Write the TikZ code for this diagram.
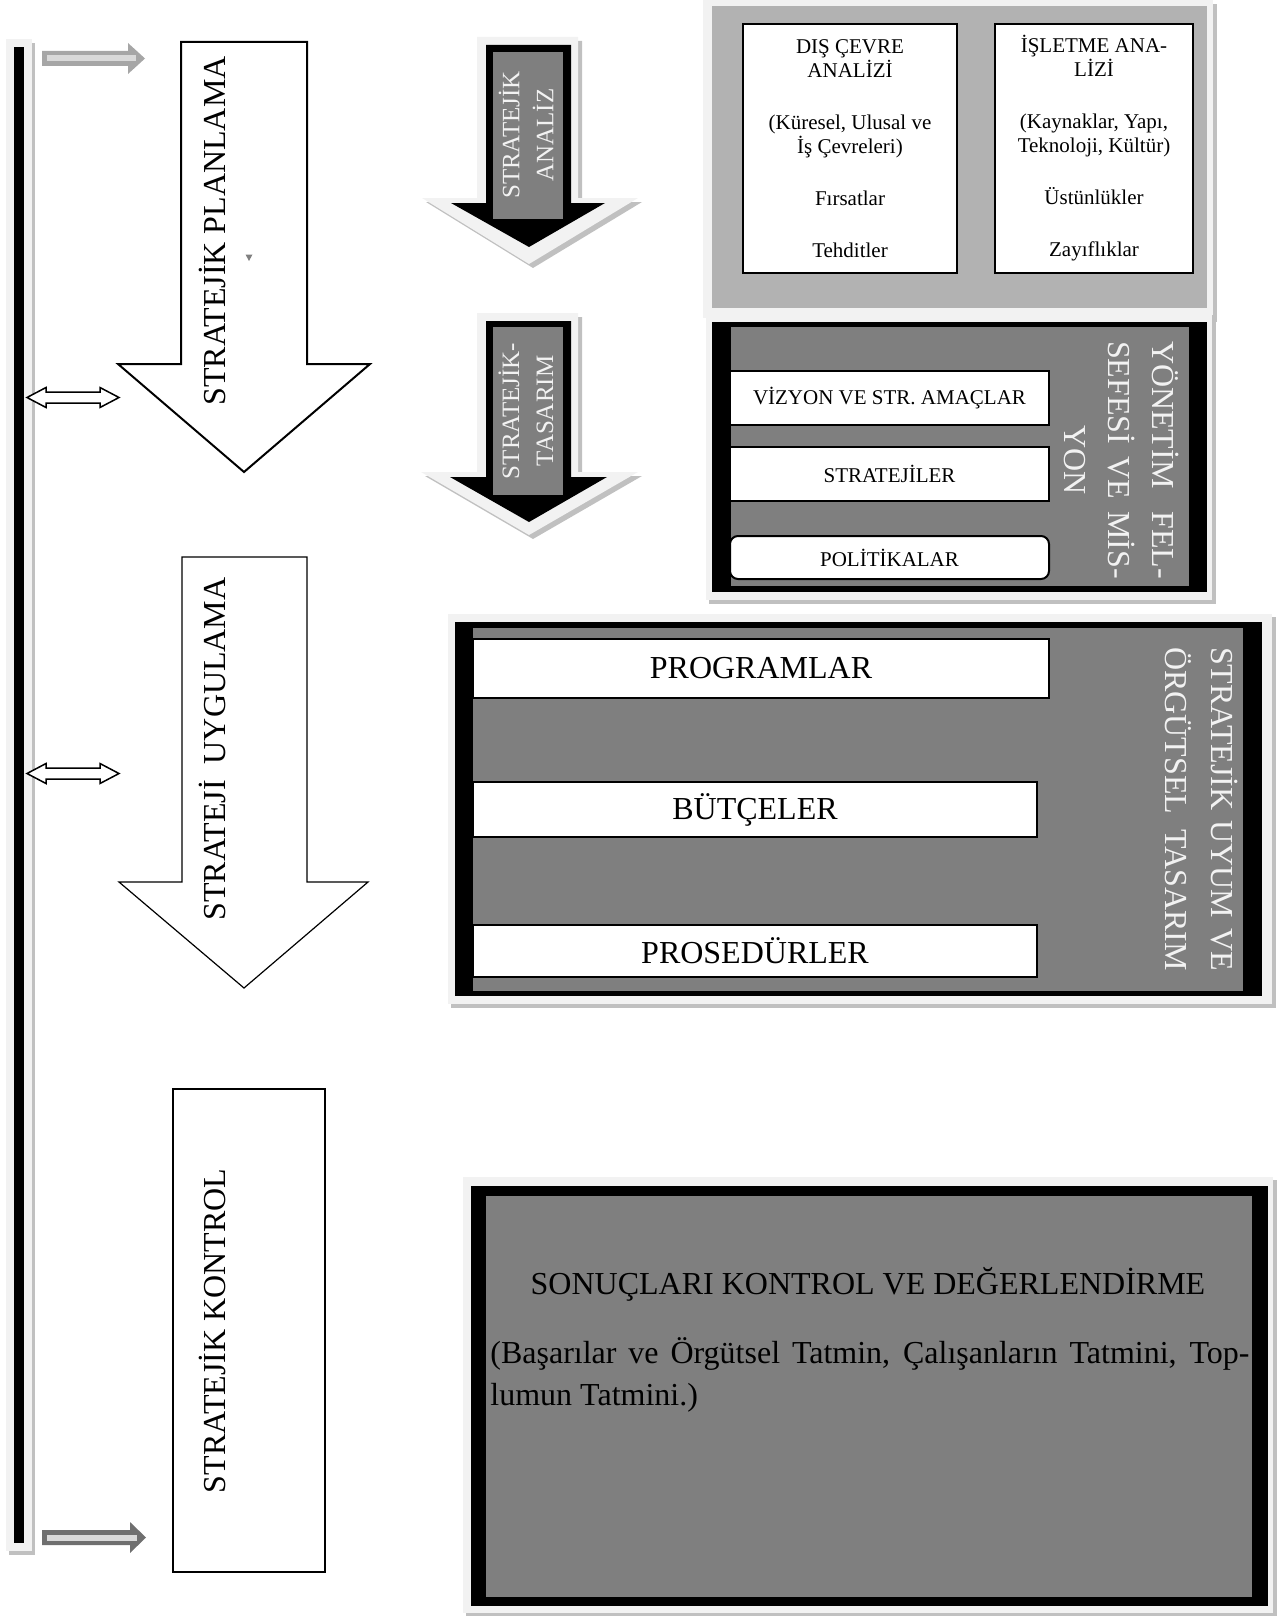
\documentclass[tikz,border=0pt]{standalone}
\usepackage{fontspec}
\setmainfont{Liberation Serif}
\definecolor{framegray}{HTML}{F2F2F2}
\definecolor{shadowgray}{HTML}{C0C0C0}
\definecolor{panelgray}{HTML}{B2B2B2}
\definecolor{midgray}{HTML}{7F7F7F}
\definecolor{lightarrow}{HTML}{A6A6A6}
\definecolor{darkarrow}{HTML}{6F6F6F}
\definecolor{innerline}{HTML}{D9D9D9}

\begin{document}
\begin{tikzpicture}[x=.5pt,y=-.5pt,
    phasearrow/.style={draw,fill=white,line width=1pt},
    panelframe/.style={fill=framegray},
    panelshadow/.style={fill=shadowgray},
    itembox/.style={draw,fill=white,line width=1pt,inner sep=0},
    smalltext/.style={font=\fontsize{10.5}{12}\selectfont},
    largetext/.style={font=\fontsize{16}{20.5}\selectfont},
    phasetext/.style={rotate=90,font=\fontsize{16}{18}\selectfont},
    sidetext/.style={text=framegray,align=center,inner sep=0}]
\useasboundingbox (0,0) rectangle (1283,1616);

\fill[panelshadow] (9,43) rectangle (35,1555);
\fill[panelframe]  (6,39) rectangle (32,1551);
\fill              (14,47) rectangle (24,1543);

\fill[lightarrow]
      (42,51) -- (128,51) -- (128,43) -- (145,58.5)
   -- (128,74) -- (128,66) -- (42,66) -- cycle;
\draw[innerline,line width=3pt] (47,58.5) -- (136,58.5);
\fill[darkarrow]
      (42,1530) -- (130,1530) -- (130,1522) -- (146,1537.5)
   -- (130,1553) -- (130,1545) -- (42,1545) -- cycle;
\draw[innerline,line width=3pt] (47,1537.5) -- (137,1537.5);

\foreach \y in {397.5,773.5}
  \draw[line width=.75pt,fill=white]
        (27,\y) -- ++(19,-10) -- ++(0,4.5) -- ++(54,0) -- ++(0,-4.5)
     -- ++(19,10) -- ++(-19,10) -- ++(0,-4.5) -- ++(-54,0) -- ++(0,4.5) -- cycle;

\draw[phasearrow]
      (181,42) -- (307,42) -- (307,364) -- (370,364)
   -- (244,472) -- (118,364) -- (181,364) -- cycle;
\node[phasetext] (plan) at (212,231) {STRATEJİK PLANLAMA};
\fill[gray] (245.5,254.5) -- (252.5,254.5) -- (249,261) -- cycle;

\draw[phasearrow,line width=.6pt]
      (182,557) -- (307,557) -- (307,882) -- (368,882)
   -- (244,988) -- (119,882) -- (182,882) -- cycle;
\node[phasetext] (uygulama) at (212,749) {STRATEJİ\ \ UYGULAMA};

\draw[line width=1pt] (173,1089) rectangle (325,1572);
\node[phasetext] (kontrol) at (212,1331) {STRATEJİK KONTROL};

\foreach \s/\c in {4/shadowgray,0/framegray}
  \fill[\c,shift={(\s,\s)}]
        (477,37) -- (578,37) -- (578,198) -- (638,198)
     -- (529,264) -- (422,198) -- (477,198) -- cycle;
\fill (486,45) -- (571,45) -- (571,203) -- (605,203)
   -- (529,247) -- (451,203) -- (486,203) -- cycle;
\fill[midgray] (493,52) rectangle (563,219);
\node[sidetext,rotate=90,font=\fontsize{12.5}{17}\selectfont] (analiz) at (526,135) {STRATEJİK\\ANALİZ};

\foreach \s/\c in {4/shadowgray,0/framegray}
  \fill[\c,shift={(\s,\s)}]
        (477,313) -- (578,313) -- (578,472) -- (638,472)
     -- (529,535) -- (421,472) -- (477,472) -- cycle;
\fill (486,321) -- (571,321) -- (571,477) -- (607,477)
   -- (529,522) -- (450,477) -- (486,477) -- cycle;
\fill[midgray] (493,327) rectangle (563,495);
\node[sidetext,rotate=90,font=\fontsize{12.5}{17}\selectfont] (tasarim) at (526,411) {STRATEJİK-\\TASARIM};

\fill[panelshadow] (707,4) rectangle (1217,322);
\fill[panelframe]  (703,0) rectangle (1213,318);
\fill[panelgray]   (712,6) rectangle (1207,308);
\node[itembox,smalltext,align=center,minimum width=107pt,minimum height=124.5pt]
    (ext) at (850,148.5)
    {DIŞ ÇEVRE\\ANALİZİ\\[14pt](Küresel, Ulusal ve\\İş Çevreleri)\\[14pt]Fırsatlar\\[14pt]Tehditler};
\node[itembox,smalltext,align=center,minimum width=99pt,minimum height=124.5pt]
    (int) at (1094,148.5)
    {İŞLETME ANA-\\LİZİ\\[14pt](Kaynaklar, Yapı,\\Teknoloji, Kültür)\\[14pt]Üstünlükler\\[14pt]Zayıflıklar};

\fill[panelshadow] (709,315) rectangle (1216,604);
\fill[panelframe]  (706,312) rectangle (1212,600);
\fill              (712,322) rectangle (1207,592);
\fill[midgray]     (731,327) rectangle (1189,586);
\node[itembox,smalltext,minimum width=159.5pt,minimum height=27pt]
    (vizyon) at (889.5,398) {VİZYON VE STR. AMAÇLAR};
\node[itembox,smalltext,minimum width=159.5pt,minimum height=27pt]
    (strateji) at (889.5,474) {STRATEJİLER};
\node[itembox,smalltext,rounded corners=4pt,minimum width=159.5pt,minimum height=21.5pt]
    (politika) at (889.5,557.5) {POLİTİKALAR};
\node[sidetext,rotate=-90,font=\fontsize{16}{22}\selectfont] (felsefe) at (1122,460)
    {\makebox[119pt][s]{YÖNETİM FEL-}\\\makebox[119pt][s]{SEFESİ VE MİS-}\\YON};

\fill[panelshadow] (451,617) rectangle (1276,1008);
\fill[panelframe]  (448,614) rectangle (1272,1004);
\fill              (455,622) rectangle (1262,996);
\fill[midgray]     (473,628) rectangle (1243,991);
\node[itembox,largetext,minimum width=288pt,minimum height=29.5pt]
    (program) at (761,668.5) {PROGRAMLAR};
\node[itembox,largetext,minimum width=282pt,minimum height=27.5pt]
    (butce) at (755,809.5) {BÜTÇELER};
\node[itembox,largetext,minimum width=282pt,minimum height=26pt]
    (prosedur) at (755,951) {PROSEDÜRLER};
\node[sidetext,rotate=-90,font=\fontsize{16}{23}\selectfont] (uyum) at (1202,809)
    {\makebox[162pt][s]{STRATEJİK UYUM VE}\\\makebox[162pt][s]{ÖRGÜTSEL TASARIM}};

\fill[panelshadow] (466,1180) rectangle (1277,1616);
\fill[panelframe]  (463,1177) rectangle (1273,1613);
\fill              (471,1186) rectangle (1268,1606);
\fill[midgray]     (486,1196) rectangle (1252,1597);
\node[largetext,anchor=base] (sonuc) at (868,1294) {SONUÇLARI KONTROL VE DEĞERLENDİRME};
\node[largetext,anchor=base west,inner sep=0] (tatmin) at (490,1363)
    {\makebox[379.5pt][s]{(Başarılar ve Örgütsel Tatmin, Çalışanların Tatmini, Top-}};
\node[largetext,anchor=base west,inner sep=0] (toplum) at ([yshift=-21pt]tatmin.base west)
    {lumun Tatmini.)};
\end{tikzpicture}
\end{document}
